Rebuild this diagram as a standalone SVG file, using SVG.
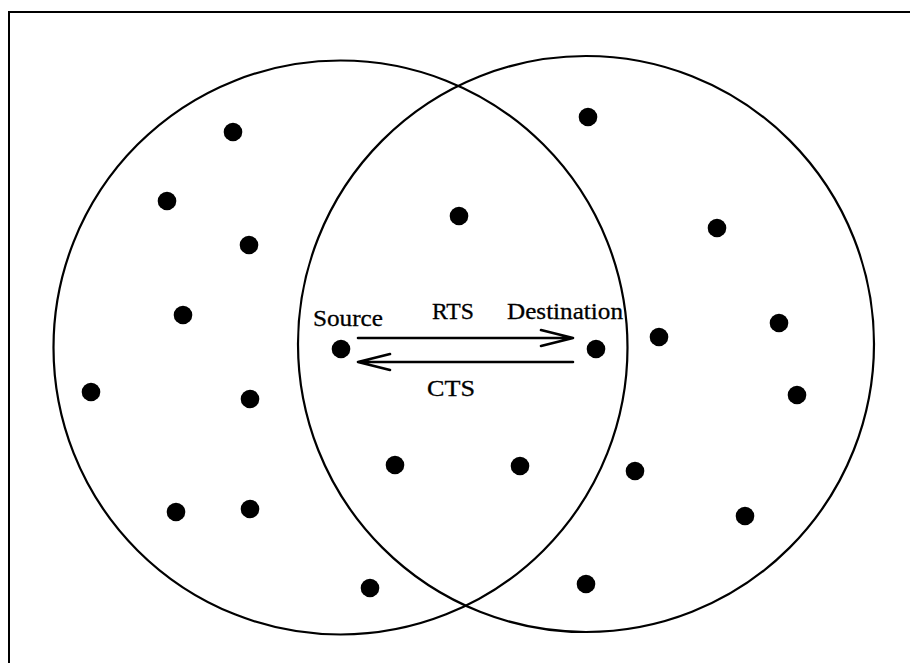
<svg xmlns="http://www.w3.org/2000/svg" width="910" height="663" viewBox="0 0 910 663">
  <style>
    .range { fill: none; stroke: #000; stroke-width: 2.2; }
    .frame { fill: none; stroke: #000; stroke-width: 2; }
    .node circle { fill: #000; }
    .link { fill: none; stroke: #000; stroke-width: 2.6; stroke-linecap: round; stroke-linejoin: round; }
    .label { font-family: "Liberation Serif", "Times New Roman", serif; font-size: 24px; fill: #000; stroke: #000; stroke-width: 0.3; }
  </style>
  <rect width="910" height="663" fill="#fff"/>
  <!-- frame (top and left edges) -->
  <polyline class="frame" points="9,663 9,12 910,12"/>

  <!-- transmission ranges -->
  <g id="ranges">
    <circle class="range" cx="340.5" cy="347.5" r="287"/>
    <circle class="range" cx="586" cy="344" r="288"/>
  </g>

  <!-- nodes -->
  <g id="n-source" class="node"><circle cx="341" cy="349" r="9.3"/></g>
  <g id="n-destination" class="node"><circle cx="596" cy="349" r="9.3"/></g>
  <g id="n1" class="node"><circle cx="233" cy="132" r="9.3"/></g>
  <g id="n2" class="node"><circle cx="167" cy="201" r="9.3"/></g>
  <g id="n3" class="node"><circle cx="249" cy="245" r="9.3"/></g>
  <g id="n4" class="node"><circle cx="183" cy="315" r="9.3"/></g>
  <g id="n5" class="node"><circle cx="91" cy="392" r="9.3"/></g>
  <g id="n6" class="node"><circle cx="250" cy="399" r="9.3"/></g>
  <g id="n7" class="node"><circle cx="176" cy="512" r="9.3"/></g>
  <g id="n8" class="node"><circle cx="250" cy="509" r="9.3"/></g>
  <g id="n9" class="node"><circle cx="370" cy="588" r="9.3"/></g>
  <g id="n10" class="node"><circle cx="459" cy="216" r="9.3"/></g>
  <g id="n11" class="node"><circle cx="395" cy="465" r="9.3"/></g>
  <g id="n12" class="node"><circle cx="520" cy="466" r="9.3"/></g>
  <g id="n13" class="node"><circle cx="588" cy="117" r="9.3"/></g>
  <g id="n14" class="node"><circle cx="717" cy="228" r="9.3"/></g>
  <g id="n15" class="node"><circle cx="659" cy="337" r="9.3"/></g>
  <g id="n16" class="node"><circle cx="779" cy="323" r="9.3"/></g>
  <g id="n17" class="node"><circle cx="797" cy="395" r="9.3"/></g>
  <g id="n18" class="node"><circle cx="635" cy="471" r="9.3"/></g>
  <g id="n19" class="node"><circle cx="745" cy="516" r="9.3"/></g>
  <g id="n20" class="node"><circle cx="586" cy="584" r="9.3"/></g>

  <!-- RTS / CTS exchange -->
  <g id="connectors">
    <path class="link" d="M358,338 H573 M541,330 L573,338 L541,346"/>
    <path class="link" d="M573,362 H358 M390,354 L358,362 L390,370"/>
  </g>

  <!-- labels -->
  <g id="labels">
    <text class="label" x="313" y="326" textLength="70" lengthAdjust="spacingAndGlyphs">Source</text>
    <text class="label" x="432" y="319" textLength="42" lengthAdjust="spacingAndGlyphs">RTS</text>
    <text class="label" x="507" y="319" textLength="116" lengthAdjust="spacingAndGlyphs">Destination</text>
    <text class="label" x="427" y="396" textLength="48" lengthAdjust="spacingAndGlyphs">CTS</text>
  </g>
</svg>
